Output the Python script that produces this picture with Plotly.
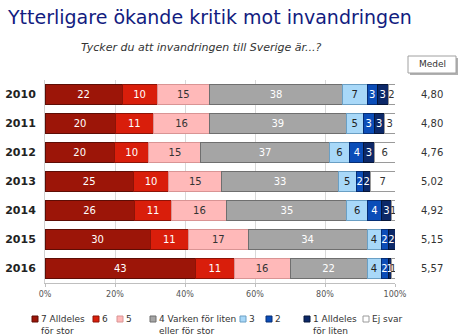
import plotly.graph_objects as go

years = ["2010", "2011", "2012", "2013", "2014", "2015", "2016"]
series_names = ["7 Alldeles<br>för stor", "6", "5", "4 Varken för liten<br>eller för stor",
                "3", "2", "1 Alldeles<br>för liten", "Ej svar"]
v7 = [22, 20, 20, 25, 26, 30, 43]
v6 = [10, 11, 10, 10, 11, 11, 11]
v5 = [15, 16, 15, 15, 16, 17, 16]
v4 = [38, 39, 37, 33, 35, 34, 22]
v3 = [7, 5, 6, 5, 6, 4, 4]
v2 = [3, 3, 4, 2, 4, 2, 2]
v1 = [3, 3, 3, 2, 3, 2, 1]
vej = [2, 3, 6, 7, 1, 0, 1]
medel = ["4,80", "4,80", "4,76", "5,02", "4,92", "5,15", "5,57"]
x_ticks = [0, 20, 40, 60, 80, 100]

values = [v7, v6, v5, v4, v3, v2, v1, vej]
colors = ["#9C1508", "#D91E0B", "#FFB9B9", "#A5A5A5", "#A8D8F8", "#0B4DB8", "#0C2868", "#FFFFFF"]
edges = ["#5E0D05", "#8E1307", "#D99494", "#6F6F6F", "#6A9FC4", "#062E75", "#061638", "#9A9A9A"]
textcol = ["white", "white", "#333333", "white", "#222222", "white", "white", "#333333"]

L, R, T, B = 45, 68, 80, 52
W, H = 463, 335
pw, ph = W - L - R, H - T - B

def px(x):
    return (x - L) / pw

def py(y):
    return (H - B - y) / ph

fig = go.Figure()
for name, vals, c, e, tc in zip(series_names, values, colors, edges, textcol):
    fig.add_trace(go.Bar(
        y=years, x=vals, orientation="h", name=name,
        marker=dict(color=c, line=dict(color=e, width=1)),
        text=[str(v) if v > 0 else "" for v in vals],
        textposition="inside", insidetextanchor="middle", textangle=0,
        textfont=dict(color=tc, size=10, family="DejaVu Sans"),
        width=0.66, showlegend=False, hoverinfo="skip",
    ))

fig.update_layout(
    barmode="stack", barnorm="percent",
    width=W, height=H, margin=dict(l=L, r=R, t=T, b=B),
    paper_bgcolor="white", plot_bgcolor="white",
    font=dict(family="DejaVu Sans", color="#333333"),
    uniformtext=dict(minsize=9, mode="show"),
    title=dict(text="Ytterligare ökande kritik mot invandringen", x=8 / W, xanchor="left",
               y=1 - 17 / H, yanchor="middle", xref="container", yref="container",
               font=dict(size=19, color="#121C80", family="DejaVu Sans")),
)
fig.update_xaxes(range=[0, 100], tickvals=x_ticks, ticktext=[f"{t}%" for t in x_ticks],
                 showgrid=True, gridcolor="#D9D9D9", gridwidth=1, automargin=False,
                 showline=True, linecolor="#BFBFBF", ticks="outside", ticklen=3, tickcolor="#BFBFBF",
                 tickfont=dict(size=8, color="#555555"), zeroline=False, fixedrange=True)
fig.update_yaxes(type="category", categoryorder="array", categoryarray=years,
                 range=[len(years) - 0.5, -0.5], autorange=False, automargin=False,
                 showgrid=False, showline=True, linecolor="#D0D0D0",
                 tickvals=years, ticktext=[f"<b>{y}</b>" for y in years],
                 tickfont=dict(size=11, color="#222222", family="DejaVu Sans"), ticklabelstandoff=6)

# subtitle
fig.add_annotation(text="<i>Tycker du att invandringen till Sverige är...?</i>", xref="paper", yref="paper",
                   x=px(201), y=py(47), showarrow=False, font=dict(size=11, color="#333333"),
                   xanchor="center", yanchor="middle")

# Medel box
fig.add_shape(type="rect", xref="paper", yref="paper", x0=px(410), x1=px(458), y0=py(75), y1=py(58),
              fillcolor="#B0B0B0", line=dict(width=0), layer="above")
fig.add_shape(type="rect", xref="paper", yref="paper", x0=px(408), x1=px(456), y0=py(73), y1=py(56),
              fillcolor="#FFFFFF", line=dict(color="#A0A0A0", width=1), layer="above")
fig.add_annotation(text="Medel", xref="paper", yref="paper", x=px(432), y=py(64.5), showarrow=False,
                   font=dict(size=9, color="#333333"), xanchor="center", yanchor="middle")
for i, m in enumerate(medel):
    fig.add_annotation(text=m, xref="paper", yref="y", x=px(432), y=i, showarrow=False,
                       font=dict(size=10, color="#333333"), xanchor="center", yanchor="middle")

# legend (manual)
leg_x = [32, 93, 117, 150, 240, 266, 304, 363]
for xm, name, c, e in zip(leg_x, series_names, colors, edges):
    fig.add_shape(type="rect", xref="paper", yref="paper", x0=px(xm), x1=px(xm + 6),
                  y0=py(322), y1=py(316), fillcolor=c, line=dict(color=e, width=1))
    fig.add_annotation(text=name, xref="paper", yref="paper", x=px(xm + 7), y=py(312),
                       showarrow=False, xanchor="left", yanchor="top", align="left",
                       font=dict(size=9, color="#333333"))

fig.write_html("out.html")
